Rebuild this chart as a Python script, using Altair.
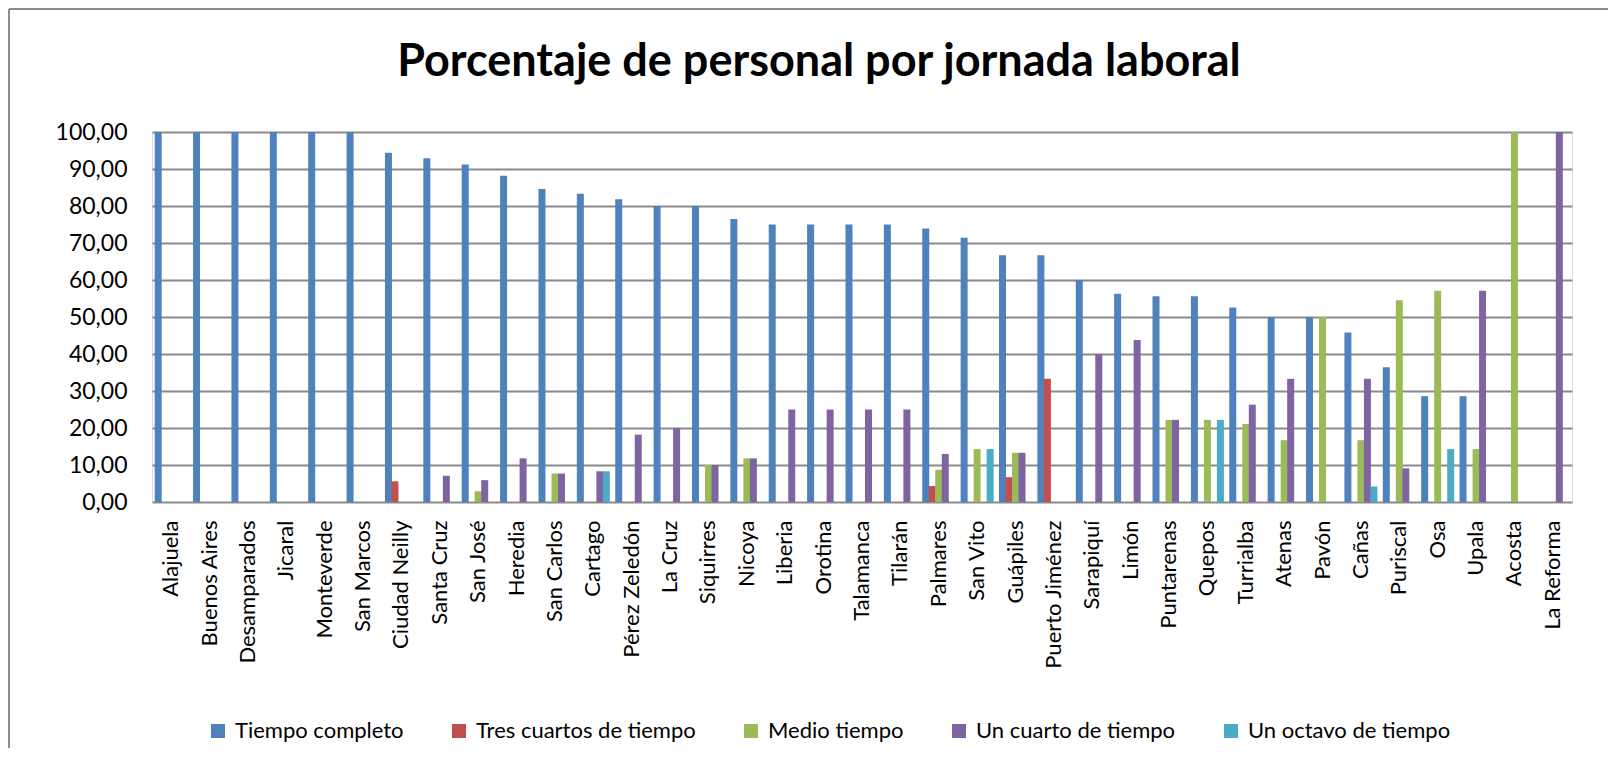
import altair as alt
import pandas as pd

categories = ["Alajuela", "Buenos Aires", "Desamparados", "Jicaral", "Monteverde", "San Marcos",
              "Ciudad Neilly", "Santa Cruz", "San José", "Heredia", "San Carlos", "Cartago",
              "Pérez Zeledón", "La Cruz", "Siquirres", "Nicoya", "Liberia", "Orotina",
              "Talamanca", "Tilarán", "Palmares", "San Vito", "Guápiles", "Puerto Jiménez",
              "Sarapiquí", "Limón", "Puntarenas", "Quepos", "Turrialba", "Atenas", "Pavón",
              "Cañas", "Puriscal", "Osa", "Upala", "Acosta", "La Reforma"]

series = ["Tiempo completo", "Tres cuartos de tiempo", "Medio tiempo",
          "Un cuarto de tiempo", "Un octavo de tiempo"]

tiempo_completo = [100, 100, 100, 100, 100, 100, 94.4, 92.9, 91.2, 88.2, 84.6, 83.3,
                   81.8, 80.0, 80.0, 76.5, 75.0, 75.0, 75.0, 75.0, 73.9, 71.4, 66.7, 66.7,
                   60.0, 56.3, 55.6, 55.6, 52.6, 50.0, 50.0, 45.8, 36.4, 28.6, 28.6, 0, 0]
tres_cuartos = [0, 0, 0, 0, 0, 0, 5.6, 0, 0, 0, 0, 0,
                0, 0, 0, 0, 0, 0, 0, 0, 4.3, 0, 6.7, 33.3,
                0, 0, 0, 0, 0, 0, 0, 0, 0, 0, 0, 0, 0]
medio_tiempo = [0, 0, 0, 0, 0, 0, 0, 0, 2.9, 0, 7.7, 0,
                0, 0, 10.0, 11.8, 0, 0, 0, 0, 8.7, 14.3, 13.3, 0,
                0, 0, 22.2, 22.2, 21.1, 16.7, 50.0, 16.7, 54.5, 57.1, 14.3, 100, 0]
un_cuarto = [0, 0, 0, 0, 0, 0, 0, 7.1, 5.9, 11.8, 7.7, 8.3,
             18.2, 20.0, 10.0, 11.8, 25.0, 25.0, 25.0, 25.0, 13.0, 0, 13.3, 0,
             40.0, 43.8, 22.2, 0, 26.3, 33.3, 0, 33.3, 9.1, 0, 57.1, 0, 100]
un_octavo = [0, 0, 0, 0, 0, 0, 0, 0, 0, 0, 0, 8.3,
             0, 0, 0, 0, 0, 0, 0, 0, 0, 14.3, 0, 0,
             0, 0, 0, 22.2, 0, 0, 0, 4.2, 0, 14.3, 0, 0, 0]

colors = ["#4F81BD", "#C0504D", "#9BBB59", "#8064A2", "#4BACC6"]

title_text = "Porcentaje de personal por jornada laboral"

rows = []
for s, vals in zip(series, [tiempo_completo, tres_cuartos, medio_tiempo, un_cuarto, un_octavo]):
    for c, v in zip(categories, vals):
        rows.append({"Sede": c, "Jornada": s, "Porcentaje": v})
df = pd.DataFrame(rows)

W, H = 1420, 370
PL, PT = 144, 124
PR = 1600 - PL - W
PB = 740 - PT - H

FONT = "Lato"

bars = alt.Chart(df).mark_bar(size=7).encode(
    x=alt.X("Sede:N", sort=categories,
            scale=alt.Scale(paddingInner=0, paddingOuter=0),
            axis=alt.Axis(title=None, labelAngle=270, labelFontSize=22, labelFont=FONT,
                          labelColor="black", ticks=False, domain=False, labelPadding=18,
                          labelLimit=300)),
    xOffset=alt.XOffset("Jornada:N", sort=series,
                        scale=alt.Scale(paddingInner=0, paddingOuter=0.45)),
    y=alt.Y("Porcentaje:Q",
            scale=alt.Scale(domain=[0, 100], nice=False),
            axis=alt.Axis(title=None, values=list(range(0, 101, 10)),
                          labelExpr="replace(format(datum.value, '.2f'), '.', ',')",
                          labelFontSize=23, labelFont=FONT, labelColor="black",
                          ticks=False, domain=False, labelPadding=25,
                          grid=True, gridColor="#8a8a8a", gridWidth=2)),
    color=alt.Color("Jornada:N", sort=series,
                    scale=alt.Scale(domain=series, range=colors),
                    legend=alt.Legend(title=None, orient="none", legendX=55, legendY=588,
                                      direction="horizontal", columns=5,
                                      symbolType="square", symbolSize=196,
                                      symbolStrokeWidth=0, labelFontSize=22,
                                      labelFont=FONT, labelColor="black",
                                      labelOffset=6, columnPadding=44,
                                      labelLimit=400)),
)

one = pd.DataFrame({"k": [0]})
frame_top = alt.Chart(one).mark_rule(stroke="#8c8c8c", strokeWidth=2).encode(
    x=alt.value(-143), x2=alt.value(W + PR), y=alt.value(-123)
)
frame_left = alt.Chart(one).mark_rule(stroke="#8c8c8c", strokeWidth=2).encode(
    x=alt.value(-143), y=alt.value(-123), y2=alt.value(H + PB)
)

title = alt.Chart(pd.DataFrame({"t": [title_text]})).mark_text(
    font=FONT, fontSize=45, fontWeight="bold", color="black",
    align="center", baseline="alphabetic"
).encode(
    text="t:N", x=alt.value(819 - 152), y=alt.value(76 - 132)
)

chart = alt.layer(bars, frame_top, frame_left, title).properties(
    width=W, height=H,
    autosize=alt.AutoSizeParams(type="none"),
    padding={"left": PL, "top": PT, "right": PR, "bottom": PB},
).configure_view(stroke=None).configure(background="white")

chart.save("out.html", embed_options={"renderer": "svg", "actions": False})
